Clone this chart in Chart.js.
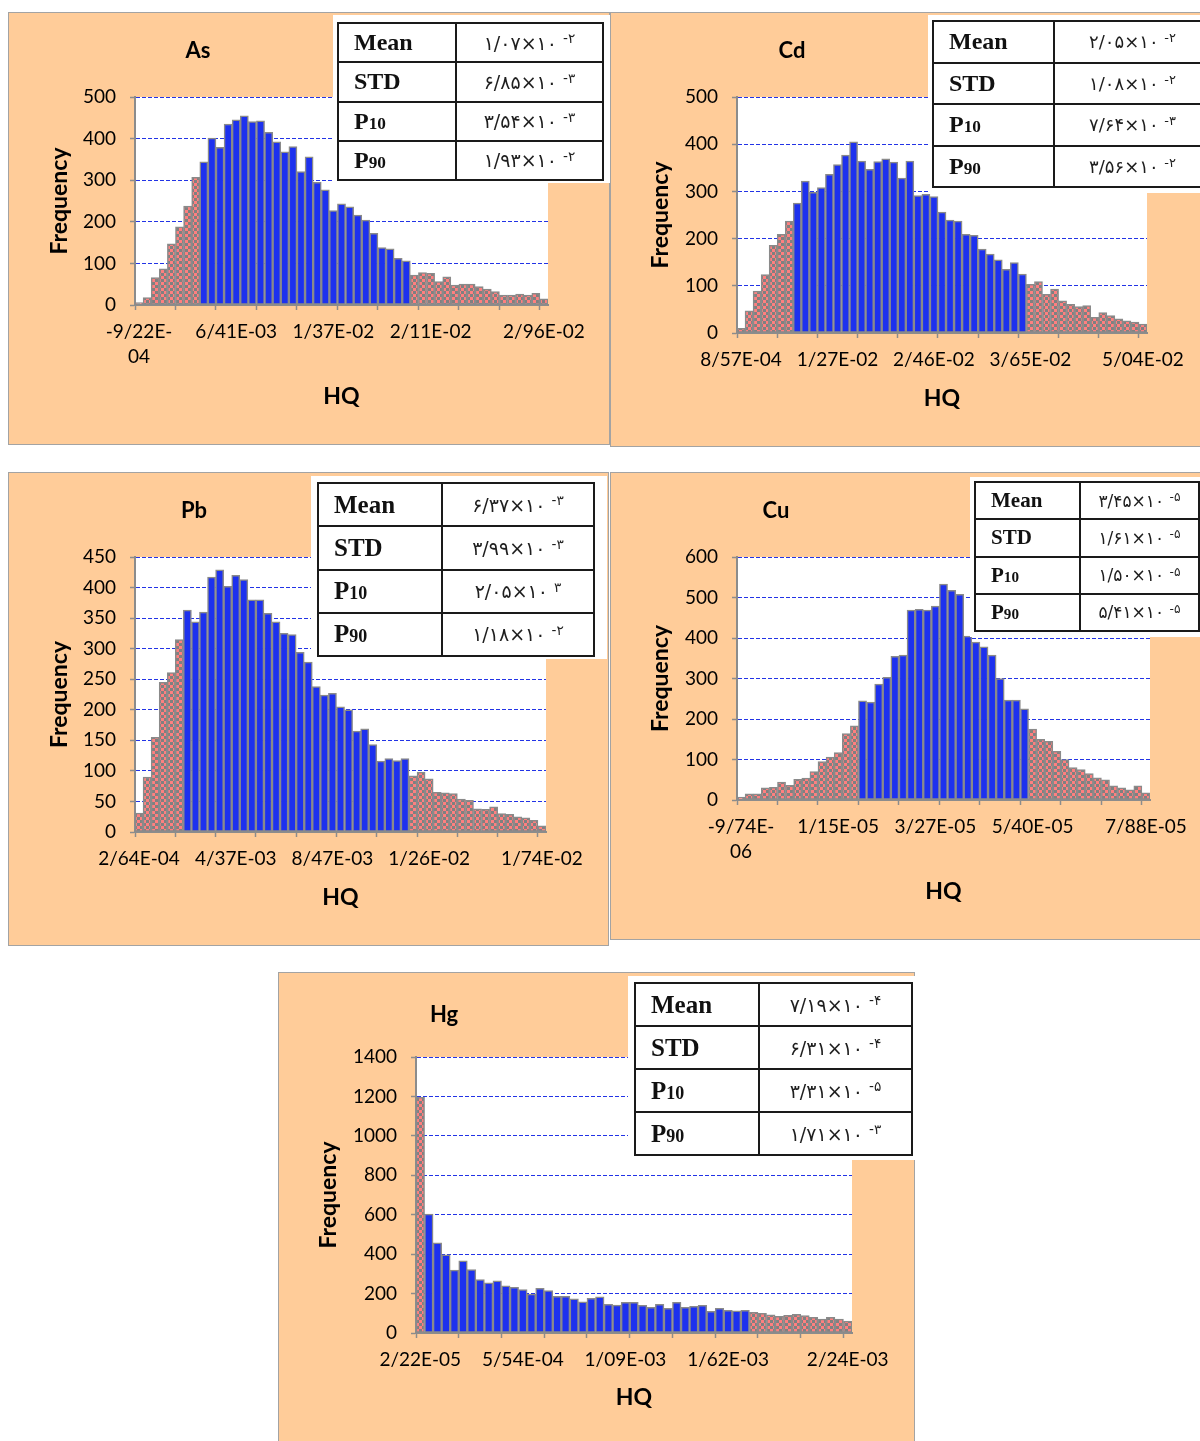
<!DOCTYPE html>
<html>
<head>
<meta charset="utf-8">
<script src="https://cdn.jsdelivr.net/npm/chart.js@4.4.1/dist/chart.umd.min.js"></script>
<style>
  body { margin:0; background:#fff; width:1200px; height:1441px; position:relative; overflow:hidden; font-family: Lato, sans-serif; }
  .panel { position:absolute; background:#ffcc99; }
  .panel canvas { position:absolute; left:0; top:0; }
  .frame { position:absolute; border:1px solid #a3a3a3; box-sizing:border-box; pointer-events:none; }
  .ttl { position:absolute; font-weight:bold; font-size:22px; font-family:Lato, sans-serif; transform:translate(-50%,-50%); color:#000; }
  .box { position:absolute; background:#fff; overflow:hidden; }
  .box table { position:absolute; border-collapse:collapse; table-layout:fixed; }
  .box td { border:2px solid #1a1a1a; padding:0; vertical-align:middle; }
  .lab { font-family:"Liberation Serif", serif; font-weight:bold; padding-left:15px !important; color:#111; }
  .lab .sb { font-size:0.72em; }
  .val { font-family:"DejaVu Sans", sans-serif; color:#1e1e1e; text-align:center; direction:ltr; white-space:nowrap; }
  .val .sup { font-size:0.72em; position:relative; top:-0.45em; }
</style>
</head>
<body>
<script>
// ---- data ----
const elements = ['As', 'Cd', 'Pb', 'Cu', 'Hg'];
const tickIdx = [0, 12, 24, 36, 50];   // categories that carry an x label

const asFreq = [6,18,66,87,147,188,238,307,344,401,379,435,445,455,441,443,415,392,368,381,321,356,295,277,227,243,236,216,204,172,138,135,112,106,72,78,76,56,68,48,50,50,44,38,32,24,24,26,24,28,15];
const cdFreq = [10,47,89,124,186,209,237,275,322,298,308,336,357,377,405,364,347,363,369,362,328,364,291,294,289,256,239,237,209,207,178,167,155,135,149,125,103,109,82,93,68,61,56,58,33,43,37,30,26,23,19];
const pbFreq = [31,90,155,245,261,315,363,344,360,417,429,402,420,413,380,380,358,344,325,323,294,278,238,224,227,205,200,165,169,143,116,120,117,120,92,98,87,65,64,63,54,52,38,37,41,30,29,25,23,19,10];
const cuFreq = [7,15,15,30,31,44,36,51,54,70,95,106,117,164,183,245,242,286,303,355,358,469,471,469,479,533,518,508,405,390,378,358,300,247,247,225,175,150,145,120,100,80,75,65,55,50,35,30,25,35,18];
const hgFreq = [1195,603,458,397,319,366,322,271,254,264,239,232,220,197,227,215,186,186,173,158,176,183,146,141,156,155,140,130,145,125,155,130,135,140,110,125,115,112,115,105,100,92,85,90,95,88,80,70,80,70,60];

// first and last bin between P10 and P90
const asMid = [8, 33];
const cdMid = [7, 35];
const pbMid = [6, 33];
const cuMid = [15, 35];
const hgMid = [1, 38];

const asYTicks = [0, 100, 200, 300, 400, 500];
const cdYTicks = [0, 100, 200, 300, 400, 500];
const pbYTicks = [0, 50, 100, 150, 200, 250, 300, 350, 400, 450];
const cuYTicks = [0, 100, 200, 300, 400, 500, 600];
const hgYTicks = [0, 200, 400, 600, 800, 1000, 1200, 1400];

const asXLabels = [['-9/22E-', '04'], '6/41E-03', '1/37E-02', '2/11E-02', '2/96E-02'];
const cdXLabels = ['8/57E-04', '1/27E-02', '2/46E-02', '3/65E-02', '5/04E-02'];
const pbXLabels = ['2/64E-04', '4/37E-03', '8/47E-03', '1/26E-02', '1/74E-02'];
const cuXLabels = [['-9/74E-', '06'], '1/15E-05', '3/27E-05', '5/40E-05', '7/88E-05'];
const hgXLabels = ['2/22E-05', '5/54E-04', '1/09E-03', '1/62E-03', '2/24E-03'];

const statNames = ['Mean', 'STD', 'P<span class="sb">10</span>', 'P<span class="sb">90</span>'];
const asStats = [['۱/۰۷', '-۲'], ['۶/۸۵', '-۳'], ['۳/۵۴', '-۳'], ['۱/۹۳', '-۲']];
const cdStats = [['۲/۰۵', '-۲'], ['۱/۰۸', '-۲'], ['۷/۶۴', '-۳'], ['۳/۵۶', '-۲']];
const pbStats = [['۶/۳۷', '-۳'], ['۳/۹۹', '-۳'], ['۲/۰۵', '۳'], ['۱/۱۸', '-۲']];
const cuStats = [['۳/۴۵', '-۵'], ['۱/۶۱', '-۵'], ['۱/۵۰', '-۵'], ['۵/۴۱', '-۵']];
const hgStats = [['۷/۱۹', '-۴'], ['۶/۳۱', '-۴'], ['۳/۳۱', '-۵'], ['۱/۷۱', '-۳']];

// ---- look ----
const BLUE = '#1d31ee';
const EDGE = '#8a8a8a';
const GRID_BLUE = '#2233e6';
const AXIS_GRAY = '#8c8c8c';
const TITLE_SIZE = 23;

// layout of each panel, page pixels: panel box, plot area, axis title positions, table box
const panels = [
  { freq: asFreq, mid: asMid, yTicks: asYTicks, xLabels: asXLabels, stats: asStats,
    box: [8, 12, 602, 433], area: [135, 97, 548, 305], yTitleX: 60, xTitleY: 397, title: [198, 49],
    tbl: { box: [333, 15, 277, 168], at: [4, 7], w: 267, h: 159, c1: 118, lab: 24, val: 19 } },
  { freq: cdFreq, mid: cdMid, yTicks: cdYTicks, xLabels: cdXLabels, stats: cdStats,
    box: [610, 12, 600, 435], area: [737, 97, 1147, 333], yTitleX: 661, xTitleY: 399, title: [792, 49],
    tbl: { box: [928, 15, 272, 178], at: [4, 5], w: 280, h: 168, c1: 121, lab: 24, val: 18 } },
  { freq: pbFreq, mid: pbMid, yTicks: pbYTicks, xLabels: pbXLabels, stats: pbStats,
    box: [8, 472, 601, 474], area: [135, 557, 546, 832], yTitleX: 60, xTitleY: 898, title: [194, 509],
    tbl: { box: [311, 476, 296, 183], at: [6, 6], w: 278, h: 175, c1: 124, lab: 25, val: 19 } },
  { freq: cuFreq, mid: cuMid, yTicks: cuYTicks, xLabels: cuXLabels, stats: cuStats,
    box: [610, 472, 600, 468], area: [737, 557, 1150, 800], yTitleX: 661, xTitleY: 892, title: [776, 509],
    tbl: { box: [970, 477, 230, 160], at: [4, 4], w: 226, h: 151, c1: 105, lab: 21, val: 17 } },
  { freq: hgFreq, mid: hgMid, yTicks: hgYTicks, xLabels: hgXLabels, stats: hgStats,
    box: [278, 972, 637, 480], area: [416, 1057, 852, 1333], yTitleX: 329, xTitleY: 1398, title: [444, 1013],
    tbl: { box: [628, 976, 287, 184], at: [6, 6], w: 279, h: 174, c1: 124, lab: 25, val: 19 } }
];

// red / grey checkerboard for the tails
function checker() {
  const c = document.createElement('canvas');
  c.width = 6; c.height = 6;
  const g = c.getContext('2d');
  g.fillStyle = '#ff7f7f'; g.fillRect(0, 0, 6, 6);
  g.fillStyle = '#808080'; g.fillRect(0, 0, 3, 3); g.fillRect(3, 3, 3, 3);
  return g.createPattern(c, 'repeat');
}

const plotBg = {
  id: 'plotBg',
  beforeDraw(chart) {
    const { ctx, chartArea: a } = chart;
    ctx.save();
    ctx.fillStyle = '#fff';
    ctx.fillRect(a.left, a.top, a.right - a.left, a.bottom - a.top);
    ctx.restore();
  }
};

function buildPanel(p, idx) {
  const [bx, by, bw, bh] = p.box;
  const [l, t, r, b] = p.area;
  const panel = document.createElement('div');
  panel.className = 'panel';
  Object.assign(panel.style, { left: bx + 'px', top: by + 'px', width: bw + 'px', height: bh + 'px' });
  const cv = document.createElement('canvas');
  cv.width = bw; cv.height = bh;
  panel.appendChild(cv);
  const fr = document.createElement('div');
  fr.className = 'frame';
  Object.assign(fr.style, { left: '0px', top: '0px', width: bw + 'px', height: bh + 'px' });
  panel.appendChild(fr);
  document.body.appendChild(panel);

  const ttl = document.createElement('div');
  ttl.className = 'ttl';
  ttl.textContent = elements[idx];
  Object.assign(ttl.style, { left: p.title[0] + 'px', top: p.title[1] + 'px' });
  document.body.appendChild(ttl);

  // sizes that put the plot area where it is in the figure
  const half = TITLE_SIZE * 1.2 / 2;
  const yW = l - bx;
  const padTop = t - by;
  const padRight = bx + bw - r;
  const yTitlePad = (p.yTitleX - bx) - half;
  const xTop = b - by;
  const xH = (p.xTitleY - by) + half - xTop;
  const padBottom = bh - xTop - xH;

  const pat = checker();
  const colors = p.freq.map((v, i) => (i >= p.mid[0] && i <= p.mid[1]) ? BLUE : pat);
  const yt = p.yTicks;

  new Chart(cv, {
    type: 'bar',
    data: {
      labels: p.freq.map((v, i) => i),
      datasets: [{
        data: p.freq,
        backgroundColor: colors,
        borderColor: EDGE,
        borderWidth: 1.5,
        borderSkipped: false,
        categoryPercentage: 1,
        barPercentage: 1
      }]
    },
    options: {
      responsive: false,
      animation: false,
      devicePixelRatio: 1,
      layout: { padding: { left: 0, top: padTop, right: padRight, bottom: padBottom } },
      plugins: { legend: { display: false }, tooltip: { enabled: false }, title: { display: false } },
      scales: {
        x: {
          ticks: {
            autoSkip: false, maxRotation: 0, minRotation: 0, color: '#000', padding: 10,
            font: { family: 'Lato', size: 19, lineHeight: 1.3 },
            callback: (v, i) => { const k = tickIdx.indexOf(i); return k < 0 ? '' : p.xLabels[k]; }
          },
          grid: {
            offset: true, drawOnChartArea: false, drawTicks: true, tickLength: 5, tickWidth: 1.5,
            tickColor: c => (c.index % 5 === 0) ? AXIS_GRAY : 'rgba(0,0,0,0)'
          },
          border: { display: true, color: AXIS_GRAY, width: 2 },
          title: { display: true, text: 'HQ', color: '#000', padding: { top: 0, bottom: 0 },
                   font: { family: 'Lato', size: TITLE_SIZE, weight: 'bold' } },
          afterFit: s => { s.height = xH; }
        },
        y: {
          min: yt[0], max: yt[yt.length - 1],
          ticks: { stepSize: yt[1] - yt[0], color: '#000', padding: 14, font: { family: 'Lato', size: 19 },
                   callback: v => String(v) },
          grid: {
            color: c => (c.tick && c.tick.value === 0) ? 'rgba(0,0,0,0)' : GRID_BLUE,
            lineWidth: 1, drawTicks: true, tickLength: 5, tickColor: AXIS_GRAY, tickWidth: 1.5
          },
          border: { display: true, color: AXIS_GRAY, width: 2, dash: [4, 2] },
          title: { display: true, text: 'Frequency', color: '#000', padding: { top: yTitlePad, bottom: 0 },
                   font: { family: 'Lato', size: TITLE_SIZE, weight: 'bold' } },
          afterFit: s => { s.width = yW; }
        }
      }
    },
    plugins: [plotBg]
  });

  // statistics table pasted over the top right corner
  const tb = p.tbl;
  const box = document.createElement('div');
  box.className = 'box';
  Object.assign(box.style, { left: tb.box[0] + 'px', top: tb.box[1] + 'px', width: tb.box[2] + 'px', height: tb.box[3] + 'px' });
  let rows = '';
  p.stats.forEach((s, i) => {
    rows += '<tr><td class="lab" style="font-size:' + tb.lab + 'px">' + statNames[i] + '</td>' +
            '<td class="val" style="font-size:' + tb.val + 'px">' + s[0] + '×۱۰ <span class="sup">' + s[1] + '</span></td></tr>';
  });
  box.innerHTML = '<table style="left:' + tb.at[0] + 'px;top:' + tb.at[1] + 'px;width:' + tb.w + 'px;height:' + tb.h + 'px">' +
    '<colgroup><col style="width:' + tb.c1 + 'px"><col></colgroup>' + rows + '</table>';
  document.body.appendChild(box);
}

panels.forEach(buildPanel);
</script>
</body>
</html>
